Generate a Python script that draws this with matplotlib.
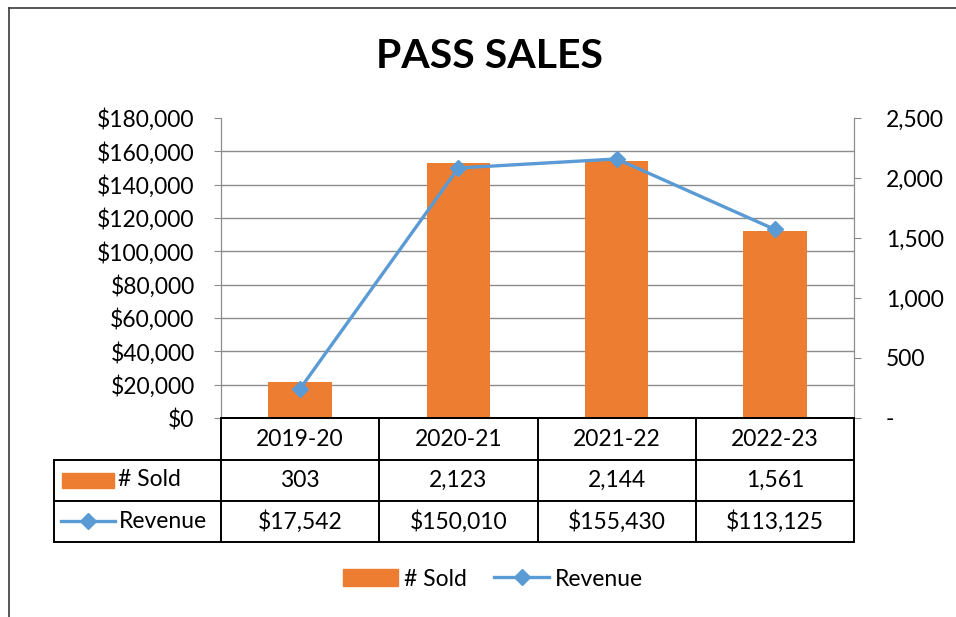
import matplotlib

matplotlib.use("Agg")
import matplotlib.pyplot as plt
from matplotlib.lines import Line2D
from matplotlib.patches import Rectangle
from matplotlib.ticker import FuncFormatter

seasons = ["2019-20", "2020-21", "2021-22", "2022-23"]
sold = [303, 2123, 2144, 1561]
revenue = [17542, 150010, 155430, 113125]

rev_ticks = list(range(0, 180001, 20000))
sold_ticks = list(range(0, 2501, 500))

ORANGE = "#ED7D31"
BLUE = "#5B9BD5"
GRID = "#8c8c8c"
W, H = 956, 617
FS = 16.5

plt.rcParams["font.family"] = ["Lato", "DejaVu Sans"]


def fx(x):
    return x / W


def fy(y):
    return 1 - y / H


fig = plt.figure(figsize=(W / 100, H / 100), dpi=100)

# chart area outline (only top and left edge visible)
fig.add_artist(Line2D([fx(9), fx(9)], [fy(8), 0], color="#3a3a3a", lw=1.2))
fig.add_artist(Line2D([fx(9), 1], [fy(8), fy(8)], color="#3a3a3a", lw=1.2))

fig.text(fx(489), fy(57), "PASS SALES", ha="center", va="center",
         fontsize=29.5, fontweight="bold")

left, right, top, bottom = 221, 854, 118, 418
ax = fig.add_axes([fx(left), fy(bottom), (right - left) / W, (bottom - top) / H])
ax2 = ax.twinx()

# bars on the secondary (right) axis, grid drawn there so bars cover it
x = list(range(len(seasons)))
ax2.bar(x, sold, width=0.4, color=ORANGE, zorder=2)
ax2.set_ylim(0, 2500)
ax2.set_yticks(sold_ticks)
ax2.set_yticks([v * 2500 / 180000 for v in rev_ticks], minor=True)
ax2.grid(True, which="minor", color=GRID, lw=1.0)
ax2.set_axisbelow(True)
ax2.tick_params(axis="y", which="minor", length=0)
ax2.tick_params(axis="y", which="major", length=5, color=GRID, labelsize=FS, pad=18)
ax2.yaxis.set_major_formatter(FuncFormatter(lambda v, p: "-" if v == 0 else f"{v:,.0f}"))

# revenue line on primary (left) axis, drawn on top
ax.set_zorder(ax2.get_zorder() + 1)
ax.patch.set_visible(False)
ax.plot(x, revenue, color=BLUE, lw=2.4, marker="D", markersize=8, zorder=3)
ax.set_ylim(0, 180000)
ax.set_xlim(-0.5, len(seasons) - 0.5)
ax.set_yticks(rev_ticks)
ax.yaxis.set_major_formatter(FuncFormatter(lambda v, p: f"${v:,.0f}"))
ax.tick_params(axis="y", length=5, color=GRID, labelsize=FS, pad=14)
ax.set_xticks([])

for a in (ax, ax2):
    a.spines["top"].set_visible(False)
    a.spines["left"].set_color(GRID)
    a.spines["right"].set_color(GRID)
    a.spines["bottom"].set_color("black")
    a.spines["bottom"].set_linewidth(1.4)
ax2.set_xticks([])

# data table below the plot area
tr = ax.get_xaxis_transform()
row_y = [0, -42 / 300, -83 / 300, -124 / 300]
lab_x = -0.5 - 167 / ((right - left) / len(seasons))
lk = dict(color="black", lw=1.4, transform=tr, clip_on=False)
for yv in row_y[1:]:
    ax.add_line(Line2D([lab_x, len(seasons) - 0.5], [yv, yv], **lk))
for i in range(len(seasons) + 1):
    ax.add_line(Line2D([i - 0.5, i - 0.5], [0, row_y[-1]], **lk))
ax.add_line(Line2D([lab_x, lab_x], [row_y[1], row_y[-1]], **lk))

rows = [seasons, [f"{v:,}" for v in sold], [f"${v:,}" for v in revenue]]
for r, vals in enumerate(rows):
    yc = (row_y[r] + row_y[r + 1]) / 2
    for i, s in enumerate(vals):
        ax.text(i, yc, s, transform=tr, ha="center", va="center", fontsize=FS)

# row labels with legend keys
fig.add_artist(Rectangle((fx(62), fy(488)), (114 - 62) / W, 15 / H, color=ORANGE))
fig.text(fx(118), fy(480), "# Sold", ha="left", va="center", fontsize=FS)
fig.add_artist(Line2D([fx(61), fx(115)], [fy(521), fy(521)], color=BLUE, lw=2.4))
fig.add_artist(Line2D([fx(88)], [fy(521)], color=BLUE, marker="D", markersize=8))
fig.text(fx(119), fy(521), "Revenue", ha="left", va="center", fontsize=FS)

handles = [
    Rectangle((0, 0), 1, 1, color=ORANGE),
    Line2D([], [], color=BLUE, lw=2.4, marker="D", markersize=8),
]
fig.legend(handles, ["# Sold", "Revenue"], loc="center", bbox_to_anchor=(fx(493), fy(579)),
           ncol=2, frameon=False, fontsize=FS, handlelength=2.4, handletextpad=0.25,
           columnspacing=1.2)

fig.savefig("out.png", dpi=100)
